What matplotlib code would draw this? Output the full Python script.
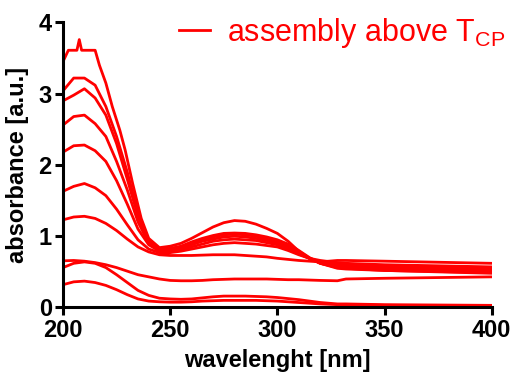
import numpy as np
import matplotlib
matplotlib.use("Agg")
from matplotlib import pyplot as plt

plt.rcParams['font.family'] = ['Liberation Sans', 'DejaVu Sans']
plt.rcParams['mathtext.fontset'] = 'custom'
plt.rcParams['mathtext.rm'] = 'Liberation Sans'
plt.rcParams['mathtext.it'] = 'Liberation Sans'

# spectrum with the detector saturation spike (highest concentration)
wl_top = [200, 202.5, 206.5, 207.6, 208.7, 215, 217, 220, 223, 226.5, 229, 232.5, 236.5, 240,
          245, 250, 255, 260, 265, 270, 275, 280, 285, 290, 295, 300, 305, 310, 315, 320,
          328, 332, 350, 400]
abs_top = [3.45, 3.61, 3.61, 3.76, 3.61, 3.61, 3.40, 3.15, 2.82, 2.49, 2.21, 1.74, 1.25, 0.97,
           0.84, 0.86, 0.90, 0.97, 1.05, 1.13, 1.19, 1.22, 1.21, 1.17, 1.11, 1.04, 0.93, 0.79,
           0.69, 0.62, 0.56, 0.55, 0.52, 0.48]

# common wavelength grid for the other spectra
wl = [200, 205, 210, 215, 220, 225, 230, 235, 240, 245, 250, 255, 260, 265, 270, 275, 280,
      285, 290, 295, 300, 305, 310, 315, 320, 328, 332, 350, 400]

abs_b = [3.04, 3.22, 3.22, 3.12, 2.82, 2.40, 1.90, 1.33, 0.93, 0.82, 0.83, 0.86, 0.92, 0.97,
         1.01, 1.04, 1.045, 1.04, 1.02, 0.99, 0.95, 0.89, 0.80, 0.70, 0.62, 0.55, 0.54, 0.52, 0.49]
abs_c = [2.90, 2.98, 3.07, 2.94, 2.70, 2.30, 1.80, 1.28, 0.92, 0.80, 0.81, 0.85, 0.90, 0.95,
         0.99, 1.02, 1.03, 1.02, 1.00, 0.96, 0.92, 0.86, 0.78, 0.69, 0.62, 0.57, 0.56, 0.54, 0.51]
abs_d = [2.56, 2.68, 2.70, 2.58, 2.40, 2.05, 1.65, 1.20, 0.90, 0.80, 0.80, 0.83, 0.88, 0.93,
         0.96, 0.99, 1.00, 0.99, 0.97, 0.94, 0.90, 0.84, 0.76, 0.69, 0.63, 0.59, 0.58, 0.56, 0.53]
abs_e = [2.18, 2.27, 2.28, 2.20, 2.05, 1.78, 1.45, 1.10, 0.88, 0.79, 0.79, 0.81, 0.85, 0.89,
         0.93, 0.95, 0.96, 0.95, 0.94, 0.91, 0.88, 0.82, 0.75, 0.69, 0.64, 0.61, 0.60, 0.58, 0.55]
abs_f = [1.63, 1.70, 1.74, 1.68, 1.57, 1.38, 1.16, 0.95, 0.82, 0.77, 0.77, 0.79, 0.82, 0.85,
         0.88, 0.90, 0.91, 0.90, 0.89, 0.87, 0.85, 0.80, 0.74, 0.69, 0.66, 0.63, 0.62, 0.60, 0.57]
abs_g = [1.23, 1.27, 1.28, 1.25, 1.18, 1.08, 0.96, 0.85, 0.78, 0.74, 0.73, 0.73, 0.73, 0.735,
         0.74, 0.74, 0.74, 0.73, 0.72, 0.71, 0.69, 0.675, 0.66, 0.65, 0.64, 0.66, 0.66, 0.65, 0.62]
abs_l1 = [0.655, 0.66, 0.65, 0.63, 0.60, 0.56, 0.51, 0.46, 0.43, 0.40, 0.38, 0.375, 0.375, 0.38,
          0.39, 0.395, 0.40, 0.40, 0.40, 0.40, 0.395, 0.39, 0.39, 0.385, 0.38, 0.375, 0.40, 0.41, 0.43]
abs_l2 = [0.56, 0.62, 0.64, 0.62, 0.56, 0.46, 0.35, 0.24, 0.17, 0.13, 0.12, 0.115, 0.12, 0.135,
          0.15, 0.16, 0.16, 0.16, 0.155, 0.15, 0.14, 0.125, 0.11, 0.09, 0.07, 0.05, 0.05, 0.04, 0.03]
abs_l3 = [0.32, 0.36, 0.37, 0.35, 0.31, 0.25, 0.18, 0.12, 0.09, 0.08, 0.075, 0.075, 0.08, 0.09,
          0.095, 0.10, 0.10, 0.10, 0.10, 0.095, 0.09, 0.08, 0.07, 0.06, 0.05, 0.04, 0.04, 0.03, 0.025]

spectra = [abs_b, abs_c, abs_d, abs_e, abs_f, abs_g, abs_l1, abs_l2, abs_l3]

red = '#ff0000'
fig = plt.figure(figsize=(5.15, 3.76), dpi=100)
ax = fig.add_axes([0.1223, 0.1822, 0.8325, 0.758])

top_line, = ax.plot(wl_top, abs_top, color=red, lw=2.0, solid_joinstyle='round')
for s in spectra:
    ax.plot(wl, s, color=red, lw=2.0, solid_joinstyle='round')

ax.set_xlim(200, 400)
ax.set_ylim(0, 4)
ax.set_xticks([200, 250, 300, 350, 400])
ax.set_yticks([0, 1, 2, 3, 4])
for side in ['top', 'right']:
    ax.spines[side].set_visible(False)
for side in ['left', 'bottom']:
    ax.spines[side].set_linewidth(2.2)
ax.tick_params(direction='out', length=6, width=2.2, labelsize=17, pad=2)
for lab in ax.get_xticklabels() + ax.get_yticklabels():
    lab.set_fontweight('bold')

ax.set_xlabel('wavelenght [nm]', fontsize=17, fontweight='bold', labelpad=5)
ax.set_ylabel('absorbance [a.u.]', fontsize=17, fontweight='bold', labelpad=7)

leg = ax.legend([top_line], ['assembly above T$_{\\mathrm{CP}}$'], loc='upper right',
                bbox_to_anchor=(1.095, 1.12), frameon=False, fontsize=22,
                handlelength=1.0, handletextpad=0.55, labelcolor=red)

fig.savefig('out.png', dpi=100)
